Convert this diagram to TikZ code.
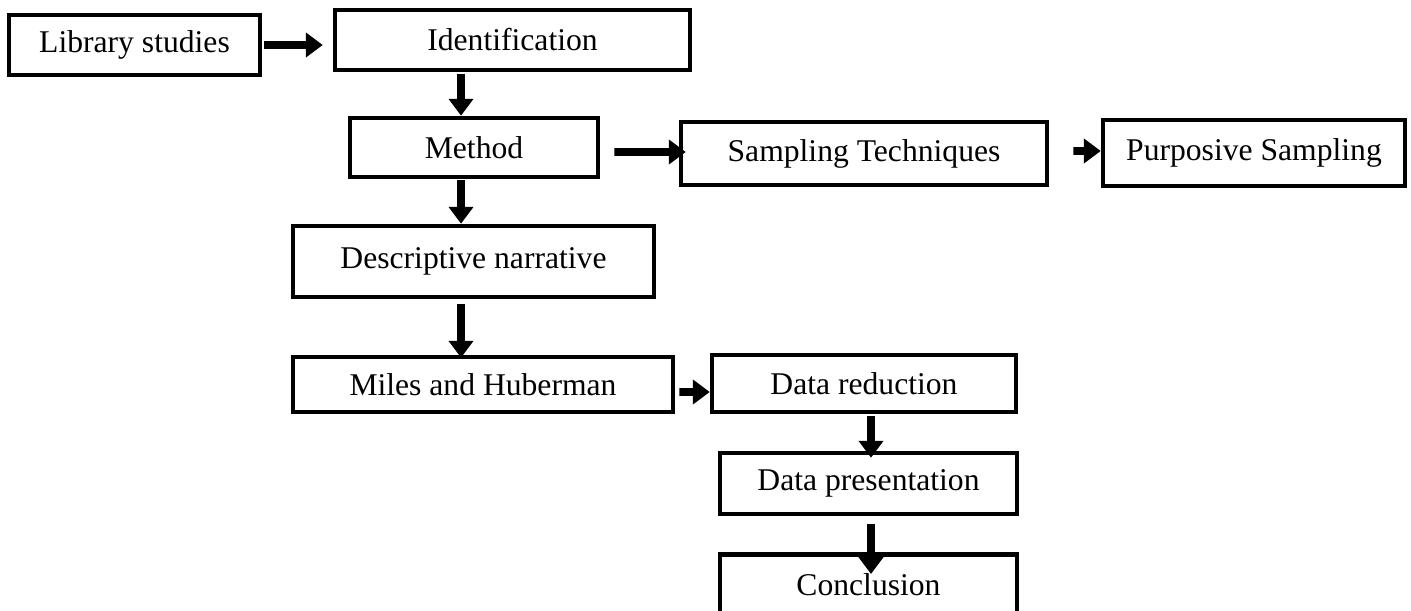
\documentclass[tikz,border=0pt]{standalone}
\usepackage{fontspec}
\setmainfont{Liberation Serif}
\usepackage{tikz}
\usetikzlibrary{positioning,arrows.meta}
\tikzstyle{b}=[draw, rectangle, line width=2.6pt, inner sep=0pt, font=\fontsize{18}{20}\selectfont]
\tikzstyle{a}=[-{Triangle[length=9.6pt,width=13.6pt]}, line width=4.5pt]

\begin{document}
\begin{tikzpicture}[x=0.02cm, y=-0.02cm]
	\useasboundingbox (0,0) rectangle (1411,611);
	\node[b, minimum width=5.02cm, minimum height=1.2cm] (lib) at (134.5,45) {Library studies};
	\node[b, minimum width=7.1cm, minimum height=1.2cm] (iden) at (512.5,40) {Identification};
	\node[b, minimum width=4.96cm, minimum height=1.18cm] (meth) at (474,147.5) {Method};
	\node[b, minimum width=7.32cm, minimum height=1.26cm] (samp) at (864,153.5) {Sampling Techniques};
	\node[b, minimum width=6.04cm, minimum height=1.32cm] (purp) at (1254,153) {Purposive Sampling};
	\node[b, minimum width=7.22cm, minimum height=1.42cm] (desc) at (473.5,261.5) {Descriptive narrative};
	\node[b, minimum width=7.6cm, minimum height=1.1cm] (miles) at (483,384.5) {Miles and Huberman};
	\node[b, minimum width=6.08cm, minimum height=1.14cm] (red) at (864,383.5) {Data reduction};
	\node[b, minimum width=5.94cm, minimum height=1.22cm] (pres) at (868.5,483.5) {Data presentation};
	\node[b, minimum width=5.94cm, text height=0.82cm, text depth=0.6cm, anchor=north] (conc) at (868.5,552) {Conclusion};

	\draw[a] ([xshift=0.04cm]lib.east) -- ([xshift=-0.2cm]lib.east -| iden.west);
	\draw[a] ([xshift=-0.26cm,yshift=0.84cm]meth.north) -- ([xshift=-0.26cm]meth.north);
	\draw[a] ([xshift=0.28cm,yshift=-0.09cm]meth.east) -- ([xshift=0.14cm,yshift=0.03cm]samp.west);
	\draw[a] ([xshift=0.48cm,yshift=0.05cm]samp.east) -- ([yshift=0.04cm]purp.west);
	\draw[a] ([xshift=-0.25cm,yshift=0.88cm]desc.north) -- ([xshift=-0.25cm]desc.north);
	\draw[a] ([xshift=-0.44cm,yshift=1.02cm]miles.north) -- ([xshift=-0.44cm,yshift=-0.06cm]miles.north);
	\draw[a] ([xshift=0.08cm,yshift=-0.15cm]miles.east) -- ([yshift=-0.17cm]red.west);
	\draw[a] ([xshift=0.05cm,yshift=0.7cm]pres.north) -- ([xshift=0.05cm,yshift=-0.14cm]pres.north);
	\draw[a] ([xshift=0.05cm,yshift=0.56cm]conc.north) -- ([xshift=0.05cm,yshift=-0.44cm]conc.north);
\end{tikzpicture}
\end{document}
